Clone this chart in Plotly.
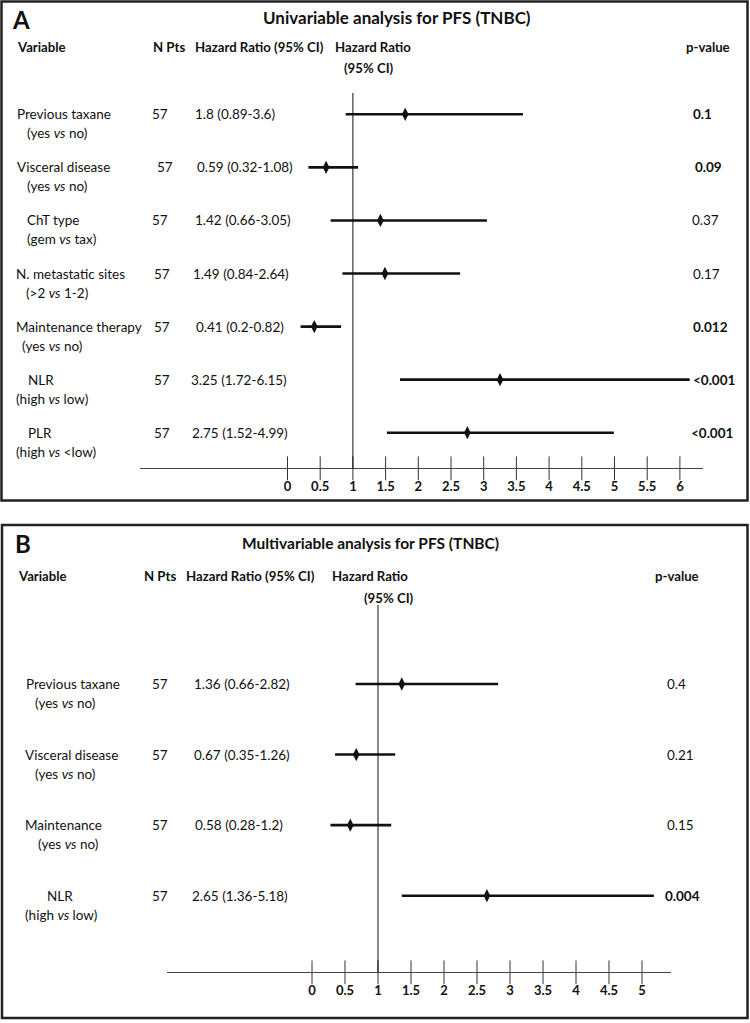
import plotly.graph_objects as go

# ---------------- Data: panel A (univariable) ----------------
a_var = ["Previous taxane", "Visceral disease", "ChT type", "N. metastatic sites",
         "Maintenance therapy", "NLR", "PLR"]
a_cmp = ["(yes <i>vs</i> no)", "(yes <i>vs</i> no)", "(gem <i>vs</i> tax)", "(&gt;2 <i>vs</i> 1-2)",
         "(yes <i>vs</i> no)", "(high <i>vs</i> low)", "(high <i>vs</i> &lt;low)"]
a_n = [57, 57, 57, 57, 57, 57, 57]
a_hr = [1.8, 0.59, 1.42, 1.49, 0.41, 3.25, 2.75]
a_lo = [0.89, 0.32, 0.66, 0.84, 0.2, 1.72, 1.52]
a_hi = [3.6, 1.08, 3.05, 2.64, 0.82, 6.15, 4.99]
a_p = ["0.1", "0.09", "0.37", "0.17", "0.012", "<0.001", "<0.001"]
a_sig = [True, True, False, False, True, True, True]
a_ticks = [0, 0.5, 1, 1.5, 2, 2.5, 3, 3.5, 4, 4.5, 5, 5.5, 6]
a_ticktext = ["0", "0.5", "1", "1.5", "2", "2.5", "3", "3.5", "4", "4.5", "5", "5.5", "6"]

# ---------------- Data: panel B (multivariable) ----------------
b_var = ["Previous taxane", "Visceral disease", "Maintenance", "NLR"]
b_cmp = ["(yes <i>vs</i> no)", "(yes <i>vs</i> no)", "(yes <i>vs</i> no)", "(high <i>vs</i> low)"]
b_n = [57, 57, 57, 57]
b_hr = [1.36, 0.67, 0.58, 2.65]
b_lo = [0.66, 0.35, 0.28, 1.36]
b_hi = [2.82, 1.26, 1.2, 5.18]
b_p = ["0.4", "0.21", "0.15", "0.004"]
b_sig = [False, False, False, True]
b_ticks = [0, 0.5, 1, 1.5, 2, 2.5, 3, 3.5, 4, 4.5, 5]
b_ticktext = ["0", "0.5", "1", "1.5", "2", "2.5", "3", "3.5", "4", "4.5", "5"]

# ---------------- Layout helpers ----------------
W, H = 750, 1023
FONT = "Lato"
INK = "#111111"
BODY = 13.5
HEAD = 13.2


def px(x):
    return x / W


def py(y):
    return 1 - y / H


def esc(s):
    return s.replace("<", "&lt;").replace(">", "&gt;")


fig = go.Figure()
annotations = []
shapes = []


def ann(text, x, y, size=BODY, bold=False, anchor="left", xref="paper", yref="paper", yshift=0):
    if bold:
        text = "<b>" + text + "</b>"
    annotations.append(dict(
        text=text, x=x, y=y, xref=xref, yref=yref, xanchor=anchor, yanchor="middle",
        showarrow=False, yshift=yshift, font=dict(family=FONT, size=size, color=INK)))


def panel(ax, ay, names, comps, ns, hr, lo, hi, pv, sig, ticks, ticktext,
          xdom_px, x0_px, unit_px, row0_px, step_px, top_px, bottom_px,
          lab1_x, lab2_x, n_x, hr_x, p_x, p_anchor):
    xa = "x" if ax == 1 else "x%d" % ax
    ya = "y" if ay == 1 else "y%d" % ay
    xr = [(xdom_px[0] - x0_px) / unit_px, (xdom_px[1] - x0_px) / unit_px]
    yr = [(bottom_px - row0_px) / step_px, (top_px - row0_px) / step_px]
    rows = list(range(len(names)))

    # CI lines + diamonds
    fig.add_trace(go.Scatter(
        x=hr, y=rows, xaxis=xa, yaxis=ya, mode="markers",
        marker=dict(symbol="diamond-tall", size=9.5, color=INK),
        error_x=dict(type="data", symmetric=False,
                     array=[h - m for h, m in zip(hi, hr)],
                     arrayminus=[m - l for m, l in zip(hr, lo)],
                     thickness=2.6, width=0, color=INK),
        cliponaxis=False, hoverinfo="skip", showlegend=False))
    # tick marks crossing the axis line
    fig.add_trace(go.Scatter(
        x=ticks, y=[yr[0]] * len(ticks), xaxis=xa, yaxis=ya, mode="markers",
        marker=dict(symbol="line-ns", size=17, line=dict(width=1, color="#333333")),
        cliponaxis=False, hoverinfo="skip", showlegend=False))

    xkey = "xaxis" if ax == 1 else "xaxis%d" % ax
    ykey = "yaxis" if ay == 1 else "yaxis%d" % ay
    fig.update_layout(**{
        xkey: dict(domain=[px(xdom_px[0]), px(xdom_px[1])], range=xr, anchor=ya,
                   showline=True, linecolor="#444444", linewidth=1, showgrid=False,
                   zeroline=False, tickmode="array", tickvals=ticks, ticktext=ticktext,
                   ticks="outside", ticklen=6, tickcolor="rgba(0,0,0,0)",
                   tickfont=dict(family=FONT, size=13, color=INK, weight="bold"),
                   fixedrange=True),
        ykey: dict(domain=[py(bottom_px), py(top_px)], range=yr, anchor=xa,
                   visible=False, fixedrange=True),
    })
    # vertical reference line at HR = 1
    shapes.append(dict(type="line", xref=xa, x0=1, x1=1, yref=ya + " domain", y0=0, y1=1,
                       line=dict(color=INK, width=1)))

    for i in rows:
        ann(names[i], px(lab1_x[i]), i, yref=ya)
        ann(comps[i], px(lab2_x[i]), i, yref=ya, yshift=-19)
        ann(str(ns[i]), px(n_x[i]), i, yref=ya, anchor="center")
        ann(f"{hr[i]:g} ({lo[i]:g}-{hi[i]:g})", px(hr_x[i]), i, yref=ya)
        ann(esc(pv[i]), px(p_x[i]), i, yref=ya, bold=sig[i], anchor=p_anchor)


# ---------------- Panel A ----------------
panel(1, 1, a_var, a_cmp, a_n, a_hr, a_lo, a_hi, a_p, a_sig, a_ticks, a_ticktext,
      xdom_px=(139.7, 703.3), x0_px=287.5, unit_px=65.4,
      row0_px=114.3, step_px=53.07, top_px=93, bottom_px=468.3,
      lab1_x=[15, 15, 25, 14, 14, 26, 26], lab2_x=[25, 25, 25, 24, 20, 14, 14],
      n_x=[160, 165, 160, 162, 162, 162, 162], hr_x=[193, 195, 193, 191, 194, 189, 190],
      p_x=[702, 708, 705, 706, 710, 714, 712], p_anchor="center")

ann("A", px(10), py(20), size=24, bold=True)
ann("Univariable analysis for PFS (TNBC)", px(397), py(18), size=17, bold=True, anchor="center")
ann("Variable", px(15), py(47), size=HEAD, bold=True)
ann("N Pts", px(151), py(47), size=HEAD, bold=True)
ann("Hazard Ratio (95% CI)", px(193), py(47), size=HEAD, bold=True)
ann("Hazard Ratio", px(333), py(47), size=HEAD, bold=True)
ann("(95% CI)", px(342), py(68), size=HEAD, bold=True)
ann("p-value", px(684), py(47), size=HEAD, bold=True)

# ---------------- Panel B ----------------
panel(2, 2, b_var, b_cmp, b_n, b_hr, b_lo, b_hi, b_p, b_sig, b_ticks, b_ticktext,
      xdom_px=(166.7, 670.7), x0_px=312, unit_px=66,
      row0_px=684, step_px=70.57, top_px=605, bottom_px=972.3,
      lab1_x=[24, 23, 23, 45], lab2_x=[33, 33, 36, 23],
      n_x=[160, 160, 160, 160], hr_x=[192, 192, 193, 190],
      p_x=[665, 665, 665, 663], p_anchor="left")

ann("B", px(13), py(543), size=24, bold=True)
ann("Multivariable analysis for PFS (TNBC)", px(370), py(543), size=15.5, bold=True, anchor="center")
ann("Variable", px(16), py(576), size=HEAD, bold=True)
ann("N Pts", px(142), py(576), size=HEAD, bold=True)
ann("Hazard Ratio (95% CI)", px(184), py(576), size=HEAD, bold=True)
ann("Hazard Ratio", px(330), py(576), size=HEAD, bold=True)
ann("(95% CI)", px(362), py(598), size=HEAD, bold=True)
ann("p-value", px(653), py(576), size=HEAD, bold=True)

# panel frames
shapes.append(dict(type="rect", xref="paper", yref="paper", x0=px(1.5), x1=px(747.5),
                   y0=py(500.5), y1=py(1.5), line=dict(color="#222222", width=2.5)))
shapes.append(dict(type="rect", xref="paper", yref="paper", x0=px(2), x1=px(747.5),
                   y0=py(1018), y1=py(525), line=dict(color="#222222", width=2.5)))

fig.update_layout(
    width=W, height=H, margin=dict(l=0, r=0, t=0, b=0),
    paper_bgcolor="white", plot_bgcolor="white",
    annotations=annotations, shapes=shapes, showlegend=False,
    font=dict(family=FONT, color=INK),
)

fig.write_html("out.html", config={"displayModeBar": False},
               post_script="document.body.style.margin='0';document.body.style.overflow='hidden';")
